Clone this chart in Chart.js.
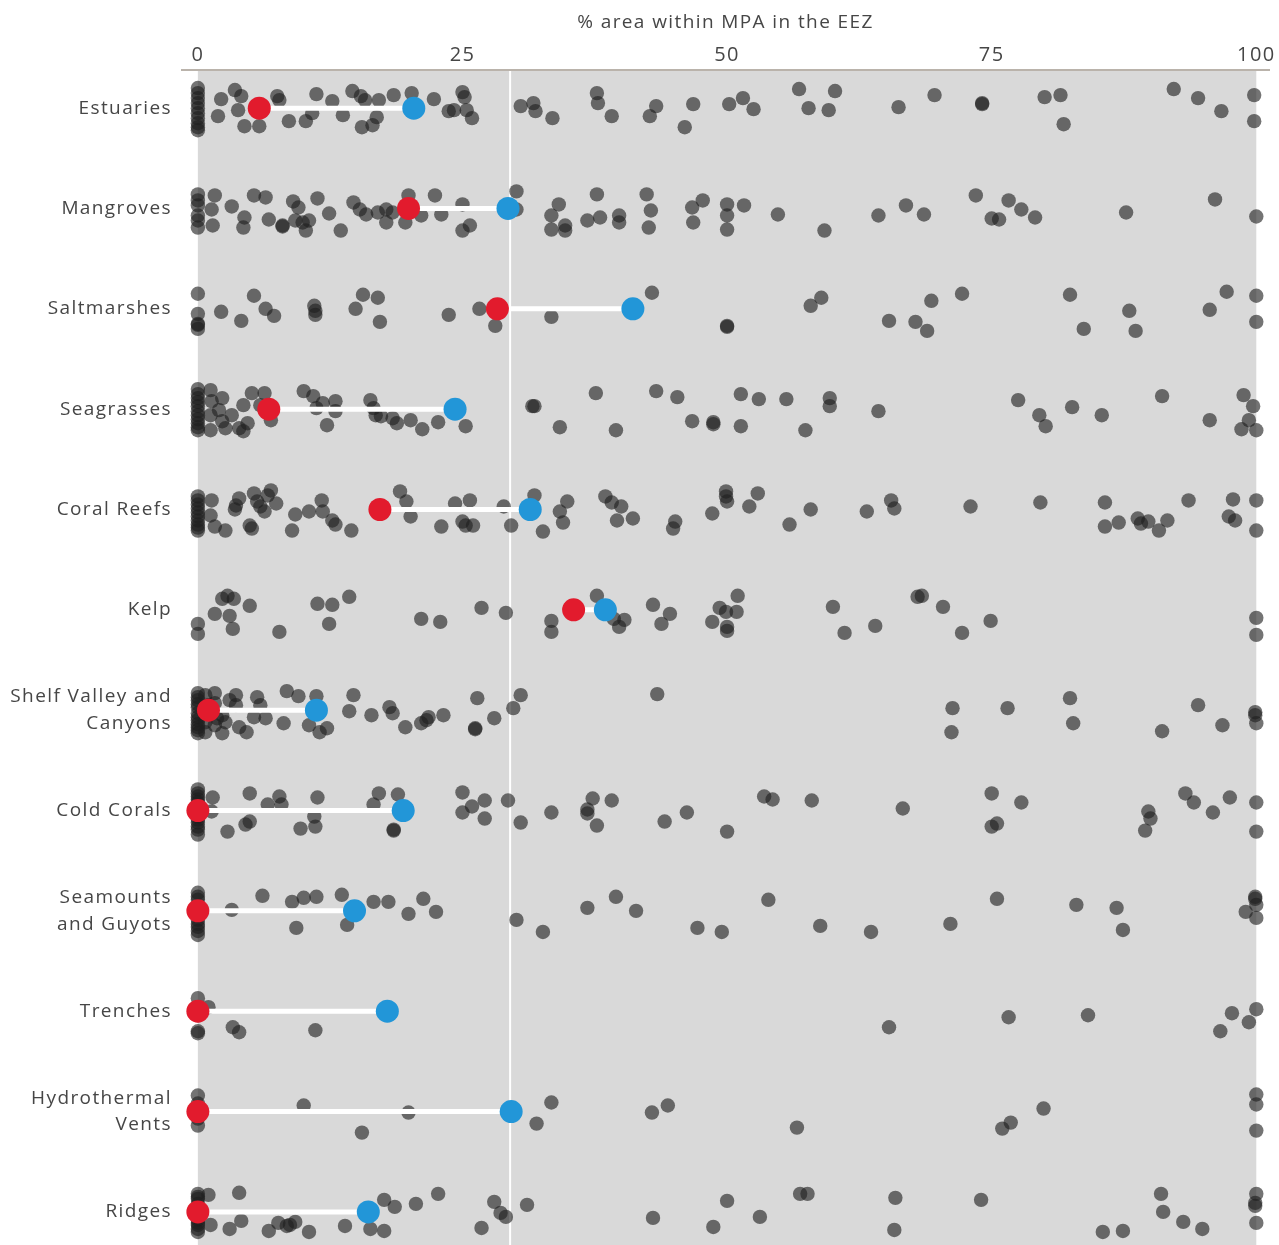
<!DOCTYPE html>
<html>
<head>
<meta charset="utf-8">
<script src="https://cdn.jsdelivr.net/npm/chart.js@4.4.1/dist/chart.umd.min.js"></script>
<style>
  html, body { margin: 0; padding: 0; background: #fff; }
  #wrap { width: 1279px; height: 1245px; }
</style>
</head>
<body>
<div id="wrap"><canvas id="mpaChart"></canvas></div>
<script>
// habitat rows, top to bottom
const habitats = ['Estuaries', 'Mangroves', 'Saltmarshes', 'Seagrasses', 'Coral Reefs', 'Kelp',
  ['Shelf Valley and', 'Canyons'], 'Cold Corals', ['Seamounts', 'and Guyots'], 'Trenches',
  ['Hydrothermal', 'Vents'], 'Ridges'];
const xTicks = [0, 25, 50, 75, 100];
const target = 29.5; // white reference line

// red = median, blue = mean (% area)
const medians = [5.8, 19.9, 28.3, 6.7, 17.2, 35.5, 1.0, 0, 0, 0, 0, 0];
const means = [20.4, 29.3, 41.1, 24.3, 31.4, 38.5, 11.2, 19.4, 14.8, 17.9, 29.6, 16.1];

// one point per country: [% area, vertical jitter]
const estuaries = [[0,-0.2],[0,-0.15],[0,-0.1],[0,-0.05],[0,0],[0,0.05],[0,0.1],[0,0.15],[0,0.19],[0,0.22],
  [2.2,-0.09],[1.9,0.08],[3.5,-0.18],[4.1,-0.12],[3.8,0.02],[4.4,0.18],[5.8,0.18],[7.5,-0.12],[7.7,-0.08],
  [8.6,0.13],[10.2,0.13],[10.8,0.05],[11.2,-0.14],[12.7,-0.07],[13.7,0.07],[14.6,-0.17],[15.4,-0.12],
  [15.8,-0.08],[15.5,0.19],[16.5,0.17],[16.9,0.09],[17.1,-0.08],[18.5,-0.13],[20.2,-0.15],[22.3,-0.09],
  [23.7,0.03],[24.2,0.02],[25.0,-0.16],[25.2,-0.11],[25.4,0.02],[25.9,0.1],[30.5,-0.02],[31.7,-0.05],
  [31.9,0.03],[33.5,0.1],[37.7,-0.15],[37.8,-0.05],[39.1,0.08],[42.7,0.08],[43.3,-0.02],[46.0,0.19],
  [46.8,-0.04],[50.2,-0.04],[51.5,-0.1],[52.5,0.01],[56.8,-0.19],[57.7,0],[59.6,0.02],[60.2,-0.17],
  [66.2,-0.01],[69.6,-0.13],[74.1,-0.05],[74.1,-0.04],[80.0,-0.11],[81.5,-0.13],[81.8,0.16],[92.2,-0.19],
  [94.5,-0.1],[96.7,0.03],[99.8,-0.13],[99.8,0.13]];
const mangroves = [[0,-0.14],[0,-0.08],[0,-0.03],[0,0.07],[0,0.12],[0,0.19],
  [1.6,-0.13],[1.3,0.01],[1.4,0.17],[3.2,-0.02],[4.4,0.09],[4.3,0.19],[5.3,-0.13],[6.4,-0.11],[6.7,0.11],
  [8.0,0.18],[8.0,0.17],[9.0,-0.07],[9.5,-0.01],[9.2,0.12],[9.9,0.14],[10.2,0.22],[10.5,0.12],[11.3,-0.1],
  [12.4,0.05],[13.5,0.22],[14.7,-0.06],[15.3,0.01],[15.9,0.06],[17.0,0.04],[17.8,0.01],[17.8,0.14],
  [18.4,0.04],[19.6,0.14],[19.9,-0.13],[21.1,0.07],[22.4,-0.13],[23.0,0.06],[25.0,-0.04],[25.0,0.22],
  [25.7,0.17],[30.1,-0.17],[30.1,0.01],[33.4,0.07],[33.4,0.21],[34.1,-0.04],[34.7,0.17],[34.7,0.22],
  [36.8,0.12],[37.7,-0.14],[38.0,0.09],[39.8,0.07],[39.8,0.14],[42.4,-0.14],[42.8,0.02],[42.6,0.19],
  [46.7,-0.01],[46.8,0.14],[47.7,-0.08],[50.0,-0.04],[50.0,0.07],[50.0,0.21],[51.6,-0.03],[54.8,0.06],
  [59.2,0.22],[64.3,0.07],[66.9,-0.03],[68.6,0.06],[73.5,-0.13],[75.0,0.1],[75.7,0.11],[76.6,-0.08],
  [77.8,0.01],[79.1,0.09],[87.7,0.04],[96.1,-0.09],[100,0.08]];
const saltmarshes = [[0,-0.15],[0,0.05],[0,0.15],[0,0.16],[0,0.2],[2.2,0.03],[4.1,0.12],[5.3,-0.13],
  [6.4,0],[7.2,0.07],[11.0,-0.03],[11.1,0.02],[11.1,0.06],[14.9,0],[15.6,-0.14],[17.0,-0.11],[17.2,0.13],
  [23.7,0.06],[26.6,0],[28.1,0.17],[33.4,0.08],[42.9,-0.16],[50.0,0.18],[50.0,0.17],[57.9,-0.03],
  [58.9,-0.11],[65.3,0.12],[67.8,0.13],[68.9,0.22],[69.3,-0.08],[72.2,-0.15],[82.4,-0.14],[83.7,0.2],
  [88.0,0.02],[88.6,0.22],[95.6,0.01],[97.2,-0.17],[100,-0.13],[100,0.13]];
const seagrasses = [[0,-0.2],[0,-0.15],[0,-0.11],[0,-0.07],[0,-0.03],[0,0.02],[0,0.06],[0,0.1],[0,0.14],
  [0,0.18],[0,0.21],[1.2,-0.19],
  [1.3,-0.08],[1.2,0.06],[1.2,0.21],[2.3,-0.11],[2.0,0.01],[2.3,0.12],[2.6,0.19],[3.2,0.06],[3.9,0.19],
  [4.3,-0.04],[4.3,0.22],[4.7,0.14],[5.1,-0.16],[6.3,-0.16],[5.9,-0.04],[6.9,0.11],[10.0,-0.18],
  [10.9,-0.13],[11.2,-0.01],[11.8,-0.06],[13.0,-0.08],[13.0,0.02],[12.2,0.16],[16.3,-0.09],[16.6,-0.01],
  [16.8,0.06],[17.3,0.07],[18.4,0.09],[18.8,0.14],[20.1,0.11],[21.2,0.2],[22.7,0.13],[25.3,0.17],
  [31.6,-0.03],[31.8,-0.03],[34.2,0.18],[37.6,-0.16],[39.5,0.21],[43.3,-0.18],[45.3,-0.12],[46.7,0.12],
  [48.7,0.13],[48.7,0.15],[51.3,-0.15],[51.3,0.17],[53.0,-0.1],[55.6,-0.1],[57.4,0.21],[59.7,-0.11],
  [59.7,-0.03],[64.3,0.02],[77.5,-0.09],[79.5,0.06],[80.1,0.17],[82.6,-0.02],[85.4,0.06],[91.1,-0.13],
  [95.6,0.11],[98.8,-0.14],[99.7,-0.03],[99.3,0.11],[98.6,0.2],[100,0.21]];
const coralReefs = [[0,-0.13],[0,-0.09],[0,-0.05],[0,-0.01],[0,0.03],[0,0.07],[0,0.11],[0,0.15],[0,0.18],
  [0,0.21],[1.3,-0.09],[1.2,0.06],
  [1.6,0.17],[2.6,0.21],[3.5,0],[3.9,-0.11],[3.6,-0.04],[4.9,0.16],[5.1,0.19],[5.3,-0.16],[5.6,-0.08],
  [5.9,-0.03],[6.3,0.02],[6.6,-0.14],[6.9,-0.19],[7.4,-0.06],[8.9,0.21],[9.2,0.05],[10.5,0.02],
  [11.7,-0.09],[11.8,0.02],[12.7,0.11],[13.0,0.15],[14.5,0.21],[17.0,-0.01],[19.1,-0.18],[19.7,-0.08],
  [20.1,0.07],[23.0,0.17],[24.3,-0.06],[25.0,0.12],[25.3,0.16],[25.7,-0.09],[26.0,0.16],[28.9,-0.03],
  [29.6,0.16],[31.8,-0.14],[32.6,0.22],[34.2,0.02],[34.5,0.13],[34.9,-0.08],[38.5,-0.13],[39.1,-0.07],
  [40.0,-0.03],[39.6,0.11],[41.1,0.09],[44.9,0.19],[45.1,0.12],[48.6,0.04],[49.9,-0.18],[49.9,-0.13],
  [50.0,-0.08],[52.1,-0.03],[52.9,-0.16],[55.9,0.15],[57.9,0],[63.2,0.02],[65.5,-0.09],[65.8,-0.01],
  [73.0,-0.03],[79.6,-0.07],[85.7,-0.07],[85.7,0.17],[87.0,0.13],[88.8,0.09],[89.1,0.14],[89.8,0.12],
  [90.8,0.21],[91.6,0.11],[93.6,-0.09],[97.4,0.07],[97.8,-0.1],[98.0,0.11],[100,-0.09],[100,0.21]];
const kelp = [[0,0.14],[0,0.24],[1.6,0.04],[2.3,-0.11],[2.8,-0.14],[3.0,0.06],[3.4,-0.11],[3.3,0.19],
  [4.9,-0.04],[7.7,0.22],[11.3,-0.06],[12.7,-0.05],[12.4,0.14],[14.3,-0.13],[21.1,0.09],[22.9,0.12],
  [26.8,-0.02],[29.1,0.03],[33.4,0.11],[33.4,0.22],[37.7,-0.14],[39.3,0.09],[39.8,0.17],[40.3,0.1],
  [43.0,-0.05],[43.8,0.14],[44.6,0.04],[48.6,0.12],[49.3,-0.02],[49.9,0.02],[50.0,0.17],[50.0,0.21],
  [50.9,0.02],[51.0,-0.14],[60.0,-0.03],[61.1,0.23],[64.0,0.16],[68.0,-0.13],[68.4,-0.14],[70.4,-0.03],
  [72.2,0.23],[74.9,0.11],[100,0.08],[100,0.25]];
const shelfValleys = [[0,-0.17],[0,-0.13],[0,-0.1],[0,-0.06],[0,-0.03],[0,0.03],[0,0.07],[0,0.1],[0,0.14],
  [0,0.17],[0,0.2],[0,0.23],
  [0.7,-0.15],[0.7,0.12],[0.7,0.22],[1.6,-0.17],[1.6,-0.07],[1.6,0.15],[2.3,0.05],[2.3,0.23],[2.6,0.12],
  [1.0,-0.05],[1.8,0.08],[3.0,-0.1],[3.6,-0.15],[3.6,-0.05],[3.9,0.17],[4.6,0.22],[5.3,0.07],[5.6,-0.13],
  [5.9,-0.05],[6.4,0.08],[8.1,0.13],[8.4,-0.19],[9.5,-0.14],[10.5,0.15],[11.2,-0.14],[11.5,0.22],
  [12.2,0.18],[14.7,-0.15],[14.3,0.01],[16.4,0.05],[18.1,-0.03],[18.4,0.03],[19.6,0.17],[21.1,0.13],
  [21.6,0.1],[21.8,0.07],[23.2,0.05],[26.2,0.18],[26.2,0.19],[26.4,-0.12],[28.0,0.08],[29.8,-0.02],
  [30.5,-0.15],[43.4,-0.16],[71.3,-0.02],[71.2,0.22],[76.5,-0.02],[82.4,-0.12],[82.7,0.13],[91.1,0.21],
  [94.5,-0.05],[96.8,0.15],[99.9,0.02],[99.9,0.05],[100,0.13]];
const coldCorals = [[0,-0.21],[0,-0.17],[0,-0.14],[0,-0.11],[0,-0.08],[0,0],[0,0.06],[0,0.09],[0,0.12],
  [0,0.16],[0,0.19],[0,0.24],
  [1.4,-0.13],[1.3,0.01],[2.8,0.21],[4.5,0.14],[4.9,0.11],[4.9,-0.17],[6.6,-0.06],[7.7,-0.14],[7.9,-0.06],
  [9.7,0.18],[11.0,0.06],[11.1,0.16],[11.3,-0.13],[16.6,-0.06],[17.1,-0.17],[18.5,0.19],[18.5,0.2],
  [18.9,-0.16],[25.0,-0.18],[25.0,0.02],[25.9,-0.04],[27.1,-0.1],[27.1,0.08],[29.3,-0.1],[30.5,0.12],
  [33.4,0.02],[36.8,-0.01],[36.8,0.03],[37.3,-0.12],[37.7,0.15],[39.1,-0.1],[44.1,0.11],[46.2,0.02],
  [50.0,0.21],[53.5,-0.14],[54.3,-0.11],[58.0,-0.1],[66.6,-0.02],[75.0,-0.17],[75.0,0.16],[75.5,0.13],
  [77.8,-0.08],[89.8,0.01],[90.0,0.08],[89.5,0.2],[93.3,-0.17],[94.1,-0.08],[95.9,0.02],[97.5,-0.13],
  [100,-0.08],[100,0.21]];
const seamounts = [[0,-0.18],[0,-0.14],[0,-0.11],[0,0],[0,0.09],[0,0.13],[0,0.16],[0,0.2],[0,0.24],
  [3.2,-0.01],[6.1,-0.15],
  [8.9,-0.09],[9.3,0.17],[10.0,-0.13],[11.2,-0.14],[13.6,-0.16],[14.1,0.14],[16.6,-0.09],[18.0,-0.09],
  [19.9,0.03],[21.3,-0.12],[22.5,0.01],[30.1,0.09],[32.6,0.21],[36.8,-0.03],[39.5,-0.14],[41.4,0],
  [47.2,0.17],[49.5,0.21],[53.9,-0.11],[58.8,0.15],[63.6,0.21],[71.1,0.13],[75.5,-0.12],[83.0,-0.06],
  [86.8,-0.03],[87.4,0.19],[99.9,-0.14],[99.9,-0.12],[99.0,0.01],[100,-0.06],[100,0.07]];
const trenches = [[0,-0.13],[0,-0.04],[0,0.04],[0,0.2],[0,0.22],[1.0,-0.04],[3.3,0.16],[3.9,0.21],
  [11.1,0.19],[65.3,0.16],[76.6,0.06],[84.1,0.04],[96.6,0.2],[97.7,0.02],[99.3,0.11],[100,-0.02]];
const hydrothermalVents = [[0,-0.16],[0,-0.08],[0,0.07],[0,0.14],[10.0,-0.06],[15.5,0.21],[19.9,0.01],
  [32.0,0.12],[33.4,-0.09],[42.9,0.01],[44.4,-0.06],[56.6,0.16],[76.0,0.17],[76.8,0.11],[79.9,-0.03],
  [100,-0.17],[100,-0.07],[100,0.19]];
const ridges = [[0,-0.18],[0,-0.15],[0,-0.13],[0,-0.08],[0,0.08],[0,0.11],[0,0.13],[0,0.17],[0,0.2],
  [1.0,-0.17],[1.2,0.13],[3.0,0.17],
  [3.9,-0.19],[4.1,0.09],[6.7,0.19],[7.6,0.11],[8.4,0.14],[8.7,0.13],[9.2,0.1],[10.5,0.2],[13.9,0.14],
  [16.3,0.17],[17.6,-0.12],[17.6,0.19],[18.6,-0.05],[20.6,-0.08],[22.7,-0.18],[26.8,0.16],[28.0,-0.1],
  [28.6,0.01],[29.1,0.05],[31.1,-0.07],[43.0,0.06],[48.7,0.15],[50.0,-0.11],[53.1,0.05],[56.9,-0.18],
  [57.6,-0.18],[65.9,-0.14],[65.8,0.18],[74.0,-0.12],[85.5,0.2],[87.4,0.19],[91.0,-0.18],[91.2,0],
  [93.1,0.1],[94.9,0.17],[100,-0.18],[99.9,-0.06],[99.9,-0.09],[100,0.11]];

const rows = [estuaries, mangroves, saltmarshes, seagrasses, coralReefs, kelp, shelfValleys,
  coldCorals, seamounts, trenches, hydrothermalVents, ridges];

const dots = [];
rows.forEach((row, i) => row.forEach(([v, j]) => dots.push({ x: v, y: i + j })));

const textColor = '#464646';
const fontFamily = "'Open Sans', sans-serif";

// gray panel + white target line, drawn under the points
const panel = {
  id: 'panel',
  beforeDraw(chart) {
    chart.ctx.letterSpacing = '1.4px';
  },
  beforeDatasetsDraw(chart) {
    const { ctx, chartArea, scales: { x } } = chart;
    const left = x.getPixelForValue(0);
    const right = x.getPixelForValue(100);
    ctx.save();
    ctx.fillStyle = '#d9d9d9';
    ctx.fillRect(left, chartArea.top + 1, right - left, chartArea.bottom - chartArea.top);
    const tx = x.getPixelForValue(target);
    ctx.strokeStyle = '#ffffff';
    ctx.lineWidth = 2;
    ctx.beginPath();
    ctx.moveTo(tx, chartArea.top + 1);
    ctx.lineTo(tx, chartArea.bottom);
    ctx.stroke();
    ctx.restore();
  }
};

const connectors = rows.map((_, i) => ({
  type: 'scatter',
  showLine: true,
  data: [{ x: medians[i], y: i }, { x: means[i], y: i }],
  borderColor: '#ffffff',
  borderWidth: 5,
  pointRadius: 0,
  clip: false,
  order: 2,
}));

new Chart(document.getElementById('mpaChart'), {
  type: 'scatter',
  data: {
    datasets: [
      {
        data: dots,
        backgroundColor: 'rgba(30, 30, 30, 0.62)',
        borderWidth: 0,
        pointRadius: 7.2,
        clip: false,
        order: 3,
      },
      ...connectors,
      {
        data: medians.map((v, i) => ({ x: v, y: i })),
        backgroundColor: '#e21b2d',
        borderWidth: 0,
        pointRadius: 11.5,
        clip: false,
        order: 1,
      },
      {
        data: means.map((v, i) => ({ x: v, y: i })),
        backgroundColor: '#2296d8',
        borderWidth: 0,
        pointRadius: 11.5,
        clip: false,
        order: 1,
      },
    ],
  },
  options: {
    responsive: true,
    maintainAspectRatio: false,
    animation: false,
    layout: { autoPadding: false, padding: { right: 10, top: 0, bottom: 0, left: 0 } },
    plugins: {
      legend: { display: false },
      tooltip: { enabled: false },
    },
    scales: {
      x: {
        type: 'linear',
        position: 'top',
        min: -1.5,
        max: 101.2,
        afterBuildTicks: (scale) => { scale.ticks = xTicks.map(v => ({ value: v })); },
        afterFit: (scale) => {
          scale.height = 70;
          scale.paddingLeft = 0;
          scale.paddingRight = 0;
        },
        grid: { display: false, drawTicks: false },
        border: { display: true, color: '#bab3ab', width: 2 },
        ticks: {
          padding: 3,
          color: textColor,
          font: { family: fontFamily, size: 20 },
          maxRotation: 0,
        },
        title: {
          display: true,
          text: '% area within MPA in the EEZ',
          color: textColor,
          font: { family: fontFamily, size: 19 },
          padding: { top: 11, bottom: 0 },
        },
      },
      y: {
        type: 'linear',
        reverse: true,
        min: -0.38,
        max: 11.33,
        afterBuildTicks: (scale) => { scale.ticks = habitats.map((_, i) => ({ value: i })); },
        afterFit: (scale) => {
          scale.width = 182;
          scale.paddingTop = 0;
          scale.paddingBottom = 0;
        },
        grid: { display: false, drawTicks: false },
        border: { display: false },
        ticks: {
          padding: 10,
          color: textColor,
          font: { family: fontFamily, size: 19, lineHeight: 1.4 },
          callback: (value) => habitats[value],
        },
      },
    },
  },
  plugins: [panel],
});
</script>
</body>
</html>
